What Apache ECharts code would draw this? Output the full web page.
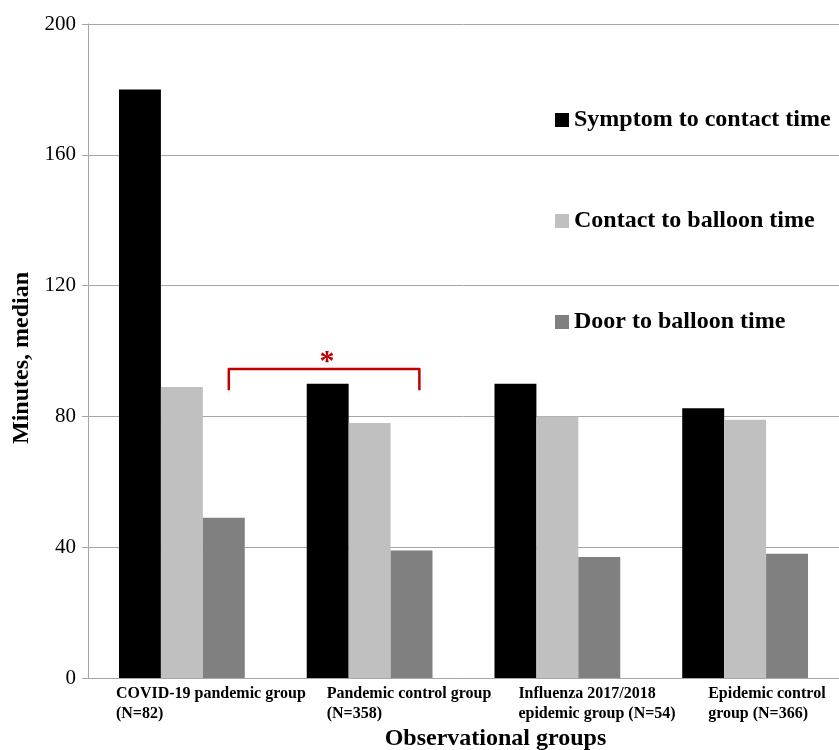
<!DOCTYPE html>
<html>
<head>
<meta charset="utf-8">
<script src="https://cdn.jsdelivr.net/npm/echarts@6/dist/echarts.min.js"></script>
<style>
html,body{margin:0;padding:0;background:#fff;}
#chart{width:839px;height:750px;}
</style>
</head>
<body>
<div id="chart"></div>
<script>
const categories = [
  'COVID-19 pandemic group\n(N=82)',
  'Pandemic control group\n(N=358)',
  'Influenza 2017/2018\nepidemic group (N=54)',
  'Epidemic control\ngroup (N=366)'
];
const seriesNames = ['Symptom to contact time', 'Contact to balloon time', 'Door to balloon time'];
const symptomToContact = [180, 90, 90, 82.5];
const contactToBalloon = [89, 78, 80, 79];
const doorToBalloon = [49, 39, 37, 38];
const yTicks = { min: 0, max: 200, interval: 40 };
const colors = ['#000000', '#c0c0c0', '#808080'];
const serif = '"Liberation Serif", "Times New Roman", serif';
// label layout (left shift of each label's text start from its category centre, px)
const labelShift = [66, 43, 39, 37];

const richStyles = {};
labelShift.forEach(function (d, i) {
  richStyles['a' + i] = { fontFamily: serif, fontWeight: 'bold', fontSize: 16, color: '#000', width: 2 * d, align: 'left', lineHeight: 20 };
});

const chart = echarts.init(document.getElementById('chart'));
const option = {
  animation: false,
  backgroundColor: '#ffffff',
  color: colors,
  grid: { left: 88, right: 0, top: 24, bottom: 72, containLabel: false, outerBoundsMode: 'none' },
  legend: {
    orient: 'vertical',
    left: 555,
    top: 108,
    padding: 0,
    itemWidth: 14,
    itemHeight: 14,
    itemGap: 77,
    icon: 'rect',
    textStyle: { fontFamily: serif, fontWeight: 'bold', fontSize: 24, color: '#000' },
    data: seriesNames
  },
  xAxis: {
    type: 'category',
    data: categories,
    name: 'Observational groups',
    nameLocation: 'middle',
    nameGap: 48,
    nameTextStyle: { fontFamily: serif, fontWeight: 'bold', fontSize: 24, color: '#000', padding: [0,0,0,64] },
    axisLine: { show: true, lineStyle: { color: '#a6a6a6', width: 1 } },
    axisTick: { show: false },
    axisLabel: {
      interval: 0,
      margin: 6,
      align: 'center',
      formatter: function (v, i) {
        return v.split('\n').map(function (s) { return '{a' + i + '|' + s + '}'; }).join('\n');
      },
      rich: richStyles
    }
  },
  yAxis: {
    type: 'value',
    min: yTicks.min,
    max: yTicks.max,
    interval: yTicks.interval,
    name: 'Minutes, median',
    nameLocation: 'middle',
    nameGap: 41,
    nameRotate: 90,
    nameTextStyle: { fontFamily: serif, fontWeight: 'bold', fontSize: 24, color: '#000', padding: [0,14,0,0] },
    axisLine: { show: true, lineStyle: { color: '#a6a6a6', width: 1 } },
    axisTick: { show: true, length: 6, lineStyle: { color: '#a6a6a6' } },
    axisLabel: { fontFamily: serif, fontSize: 21, color: '#000', margin: 12 },
    splitLine: { show: true, lineStyle: { color: '#a6a6a6', width: 1 } }
  },
  series: [
    { name: seriesNames[0], type: 'bar', data: symptomToContact, barGap: '0%', barCategoryGap: '33%' },
    { name: seriesNames[1], type: 'bar', data: contactToBalloon, barGap: '0%', barCategoryGap: '33%' },
    { name: seriesNames[2], type: 'bar', data: doorToBalloon, barGap: '0%', barCategoryGap: '33%' }
  ]
};
chart.setOption(option);

// significance bracket between first two groups, positioned from the axes
function drawBracket() {
  const c0 = chart.convertToPixel({ gridIndex: 0 }, [0, 94.5]);
  const c1 = chart.convertToPixel({ gridIndex: 0 }, [1, 88]);
  const band = chart.convertToPixel({ gridIndex: 0 }, [1, 0])[0] - chart.convertToPixel({ gridIndex: 0 }, [0, 0])[0];
  const xL = c0[0] + band * 0.25;
  const xR = c1[0] + band * 0.265;
  const yT = c0[1];
  const yB = c1[1];
  chart.setOption({
    graphic: [
      { type: 'polyline', shape: { points: [[xL, yB], [xL, yT], [xR, yT], [xR, yB]] },
        style: { fill: null, stroke: '#c00000', lineWidth: 2.5, lineJoin: 'round' }, z: 100 },
      { type: 'text', x: (xL + xR) / 2 + 3, y: yT + 8, style: { text: '*', fill: '#c00000', font: 'bold 30px ' + serif, textAlign: 'center', textVerticalAlign: 'bottom' }, z: 100 }
    ]
  });
}
drawBracket();
</script>
</body>
</html>
